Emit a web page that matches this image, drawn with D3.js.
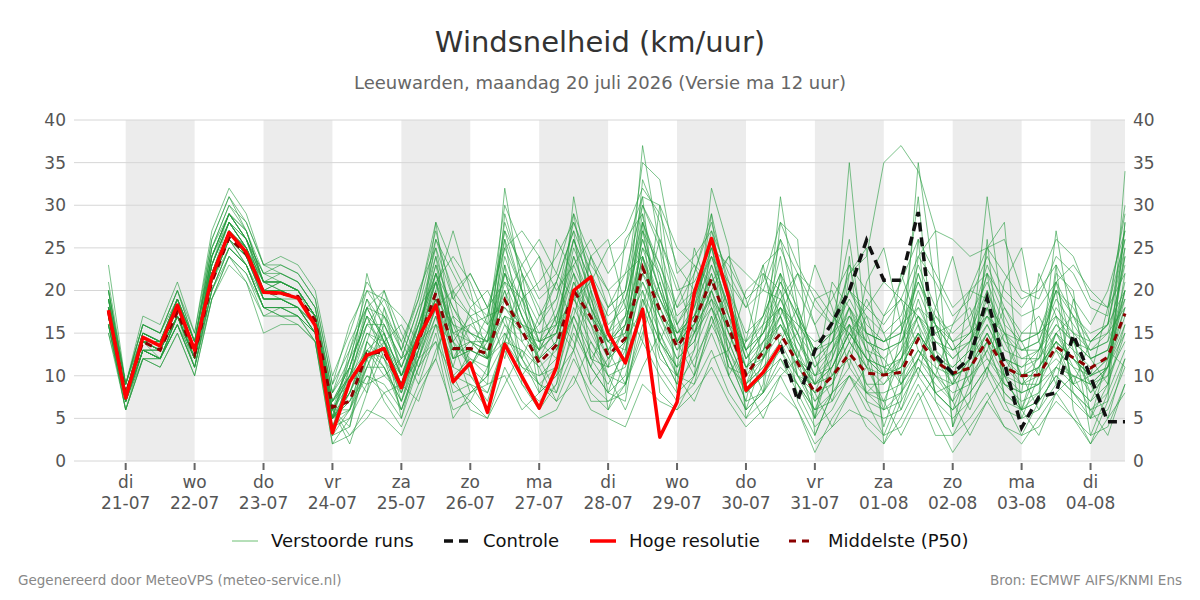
<!DOCTYPE html>
<html>
<head>
<meta charset="utf-8">
<script src="https://cdn.jsdelivr.net/npm/d3@7"></script>
<style>
  body { margin: 0; background: #fff; }
  text { font-family: "DejaVu Sans", sans-serif; }
</style>
</head>
<body>
<svg id="chart"></svg>
<script>
// Forecast steps: every 6 hours, from ma 20-07 18:00 up to di 04-08 12:00
const firstStep = new Date(2026, 6, 20, 18);
const stepCount = 60;

// Hoge resolutie (runs 10 days)
const hres = [17.7, 7.4, 14.5, 13.5, 18.3, 13.0, 21.6, 26.8, 24.5, 19.8,
  19.7, 19.1, 15.9, 3.3, 9.3, 12.4, 13.2, 8.6, 14.5, 18.3,
  9.3, 11.5, 5.7, 13.7, 9.9, 6.2, 11.0, 20.0, 21.6, 15.0,
  11.5, 17.8, 2.8, 6.9, 19.7, 26.1, 19.2, 8.3, 10.4, 13.6];

// Controle, shown from the end of the high resolution run (step 39)
const controlStart = 39;
const control = [13.6, 7.1, 13.0, 16.2, 20.0, 25.9, 21.2, 21.2, 29.2, 12.4,
  10.3, 12.1, 19.1, 11.5, 3.9, 7.5, 8.0, 14.8, 9.9, 4.6, 4.6];

// Middelste (P50)
const p50 = [17.5, 7.8, 14.0, 13.0, 17.5, 12.5, 21.0, 26.2, 24.3, 19.8,
  19.6, 19.3, 16.5, 6.3, 7.0, 12.6, 12.8, 8.7, 14.0, 19.7,
  13.2, 13.2, 12.6, 18.9, 15.3, 11.5, 13.6, 20.0, 16.9, 12.4,
  14.4, 22.7, 17.7, 13.4, 16.2, 21.4, 15.7, 10.1, 12.8, 14.9,
  11.5, 8.0, 9.9, 12.6, 10.3, 10.1, 10.4, 14.3, 11.7, 10.3,
  10.9, 14.2, 11.0, 10.0, 10.1, 13.4, 12.1, 10.9, 12.2, 17.3];

// Verstoorde runs (ensemble members)
const members = [
  [17,7,14,13,18,12,24,29,26,20, 21,20,16,5,8,14,12,9,15,23, 14,12,10,22,17,13,15,24,19,14, 12,27,20,14,18,25,17,9,12,18, 13,7,9,16,11,9,12,19,13,9, 12,18,10,8,9,15,11,8,10,22],
  [20,8,15,14,19,13,22,27,25,19, 19,18,15,3,6,11,15,10,13,22, 18,14,12,26,20,14,12,21,16,10, 9,20,15,11,15,23,18,12,15,19, 15,9,12,18,14,12,9,13,10,8, 9,14,12,11,13,17,14,12,13,20],
  [16,6,13,12,17,11,20,25,23,18, 18,18,15,7,11,17,12,6,12,18, 11,10,8,14,13,9,11,18,14,11, 16,25,22,15,17,20,13,8,10,12, 9,5,8,10,7,6,8,12,9,7, 10,13,9,7,8,11,9,7,9,15],
  [19,9,16,15,20,14,26,31,27,22, 22,21,18,8,12,19,16,11,17,25, 15,16,14,28,22,17,19,28,22,16, 18,30,25,18,22,28,21,14,17,22, 18,12,14,20,16,14,15,22,16,13, 15,22,17,13,14,20,18,14,16,27],
  [15,7,12,12,16,11,19,23,21,17, 18,17,14,4,5,9,10,8,13,19, 16,11,15,20,12,8,10,17,12,9, 13,21,16,12,14,19,14,9,11,14, 10,6,11,15,12,11,10,13,11,10, 12,15,11,9,10,12,10,9,11,16],
  [18,8,14,13,17,13,23,28,25,21, 20,19,17,6,4,12,14,10,16,21, 12,14,13,17,15,13,17,22,18,13, 15,24,19,14,16,21,16,11,14,16, 12,10,13,18,13,10,13,17,12,11, 13,17,12,10,11,14,12,10,12,19],
  [17,7,13,12,17,12,21,26,24,20, 19,19,16,5,9,15,13,8,14,19, 10,12,11,16,14,11,13,19,15,11, 12,22,17,12,14,20,15,10,12,15, 11,8,9,13,9,9,11,15,12,10, 11,14,10,9,9,13,11,10,11,17],
  [19,9,15,14,19,14,25,30,27,21, 21,20,17,7,10,16,14,9,15,24, 17,15,13,24,18,14,16,25,20,15, 17,28,22,16,20,26,19,12,15,20, 15,10,12,17,14,13,14,20,15,12, 14,19,15,12,13,18,15,13,14,24],
  [16,7,13,13,17,12,22,27,24,19, 19,18,16,6,7,11,11,7,12,17, 9,13,12,15,11,10,12,17,13,10, 11,19,14,11,13,18,14,9,11,13, 10,7,10,12,8,8,9,12,10,9, 10,12,9,8,9,11,10,9,10,14],
  [18,8,14,14,18,13,23,28,26,20, 20,20,17,5,8,13,15,10,14,21, 13,13,12,19,16,12,14,21,17,12, 14,23,18,13,17,22,16,11,13,16, 12,9,10,14,11,10,11,15,12,10, 11,15,11,10,10,14,12,10,12,18],
  [18,8,14,13,18,13,22,27,25,20, 20,19,16,6,10,16,16,12,18,26, 22,18,16,30,25,20,22,29,24,18, 20,35,33,22,24,27,22,18,20,26, 22,18,16,22,24,35,37,34,27,26, 24,25,26,20,19,24,22,18,17,30],
  [16,6,12,11,15,10,19,24,22,17, 17,16,14,2,3,6,5,3,8,12, 6,7,5,11,7,5,6,10,6,5, 4,9,7,6,8,11,7,4,6,8, 6,2,4,6,5,3,4,8,3,3, 5,8,4,3,4,7,5,3,4,9],
  [21,9,16,15,20,15,27,32,29,23, 23,22,19,9,13,20,19,14,19,27, 19,17,15,27,20,16,19,26,21,17, 19,26,20,16,19,24,18,13,16,21, 17,13,15,20,17,15,17,23,18,14, 16,23,18,15,15,21,17,14,16,25],
  [17,7,13,12,16,11,20,25,23,18, 18,17,15,4,6,10,9,6,11,16, 8,9,8,13,9,7,9,15,11,8, 10,18,13,9,12,16,12,8,10,13, 9,6,8,11,8,7,8,11,8,6, 8,11,7,6,7,10,8,6,8,13],
  [18,8,15,14,19,14,24,29,26,21, 21,20,17,8,11,18,17,11,16,22, 16,15,14,22,19,15,17,24,18,14, 16,25,19,15,18,23,17,12,14,18, 14,11,13,17,13,12,14,18,14,12, 14,18,13,12,12,16,14,12,13,21],
  [19,8,14,13,18,12,22,27,24,20, 20,19,16,4,9,22,15,5,13,28, 14,8,10,32,20,8,14,29,18,8, 14,37,25,10,16,29,20,6,12,31, 18,5,12,35,14,4,10,35,20,4, 12,31,16,5,10,27,15,3,8,34],
  [17,7,14,13,17,12,21,26,24,19, 19,18,15,5,12,19,14,7,14,26, 20,11,9,29,22,10,11,31,20,6, 12,33,28,8,13,32,25,5,9,28, 26,3,8,22,25,2,7,24,27,4, 9,25,28,6,8,22,20,5,9,28],
  [18,8,15,14,18,13,23,28,25,20, 20,19,16,6,2,8,18,10,15,20, 27,20,12,23,17,13,26,22,12,11, 26,29,14,11,25,19,11,10,22,20, 10,9,21,18,8,10,22,16,8,9, 20,19,9,8,22,17,9,10,18,22],
  [16,7,13,12,16,11,20,24,22,18, 17,17,14,3,4,14,20,13,9,12, 20,22,18,12,21,24,16,13,24,26, 18,14,30,16,11,17,10,14,23,13, 15,23,18,11,21,25,16,10,18,24, 16,10,21,25,14,9,19,12,13,11],
  [20,9,16,15,19,14,25,29,27,21, 22,21,18,7,11,17,13,9,17,24, 12,13,17,26,14,16,21,27,12,15, 20,31,13,9,22,29,12,7,16,24, 12,5,16,26,12,6,15,31,11,7, 14,22,10,6,13,20,8,5,12,24],
  [17,7,13,12,17,12,22,27,24,19, 19,18,15,5,7,12,7,4,9,15, 7,8,9,10,6,8,10,13,7,7, 9,14,10,7,9,13,8,5,7,10, 6,1,5,8,4,2,5,9,5,1, 4,7,4,2,5,8,5,2,5,8],
  [18,8,14,14,18,13,23,28,25,21, 21,20,17,7,9,13,12,8,14,19, 13,14,14,18,15,14,15,20,17,14, 15,22,19,15,17,21,17,13,15,18, 15,12,14,16,14,13,14,17,14,13, 14,17,14,13,13,16,14,13,14,19],
  [19,8,15,14,19,13,24,29,26,22, 21,20,17,6,10,15,14,9,15,22, 15,14,12,21,16,13,15,23,18,14, 16,26,20,14,17,24,18,11,13,19, 14,10,11,15,12,11,12,17,13,11, 13,16,12,11,12,15,13,11,12,20],
  [15,6,12,11,15,10,19,24,21,15, 16,16,14,2,5,11,16,12,14,16, 12,16,17,18,16,15,16,19,16,14, 17,21,17,15,16,19,16,14,16,18, 16,14,15,17,15,14,16,18,16,14, 15,17,15,14,15,17,15,14,15,18],
  [23,9,17,16,21,15,26,31,28,23, 24,23,20,10,15,21,18,13,19,28, 23,19,17,27,23,19,21,27,22,18, 20,28,23,18,20,26,20,15,17,22, 16,13,15,19,15,14,16,21,17,15, 17,21,16,14,15,20,17,15,16,26],
  [16,7,13,13,17,12,21,26,23,18, 18,17,15,4,8,13,11,7,13,18, 10,9,6,15,12,9,8,16,11,8, 7,19,14,10,9,17,12,7,8,12, 8,4,6,10,6,5,6,10,7,5, 7,10,6,5,6,9,7,5,6,11],
  [18,8,14,13,18,13,22,27,25,20, 20,19,16,5,11,17,15,10,15,21, 16,14,13,20,15,12,14,20,16,12, 14,24,17,13,15,20,15,11,12,16, 13,9,11,15,12,10,11,15,12,10, 11,15,11,10,11,14,12,10,11,18],
  [17,7,14,12,17,12,21,26,24,19, 19,18,16,5,6,14,11,6,12,20, 9,7,11,23,9,6,9,20,9,7, 8,28,8,6,10,26,10,6,8,22, 7,3,8,24,7,3,8,26,7,3, 7,26,7,3,7,23,6,2,7,28],
  [20,9,15,14,19,14,24,29,26,21, 21,20,17,6,9,18,14,9,16,23, 18,15,14,25,20,14,18,26,21,15, 19,27,23,17,19,25,19,13,15,21, 17,13,14,18,15,14,15,21,16,13, 15,20,15,13,14,19,16,13,15,23],
  [17,7,13,12,16,12,20,25,23,18, 17,17,15,5,7,10,8,5,11,14, 5,8,10,14,11,9,7,12,8,6, 9,16,11,8,10,15,10,6,8,11, 9,6,7,10,8,6,7,11,8,6, 8,11,8,6,7,10,8,6,7,12],
  [18,8,14,13,18,13,23,29,26,22, 23,22,19,9,16,20,17,13,20,25, 19,22,18,25,27,24,20,23,26,22, 25,31,30,25,23,21,24,22,20,19, 22,20,17,15,18,21,19,17,15,16, 20,22,19,17,18,21,23,20,18,26],
  [17,7,13,12,17,12,22,27,24,20, 20,19,16,7,10,9,14,16,12,18, 20,17,12,14,22,18,13,17,24,20, 14,18,26,21,15,20,24,19,12,17, 22,16,10,14,19,15,9,12,17,14, 9,13,18,14,10,15,17,12,9,16],
  [19,8,15,14,19,14,24,29,27,21, 21,20,17,5,13,18,20,15,11,17, 11,18,20,16,12,17,21,16,11,18, 22,24,14,19,23,18,13,20,22,17, 12,19,20,14,11,17,19,13,10,16, 18,12,10,15,17,13,9,14,16,20],
  [16,6,12,12,16,11,21,26,23,18, 18,18,15,3,11,8,13,9,7,13, 17,10,7,14,19,12,8,13,20,13, 9,15,21,14,10,16,20,13,8,14, 18,12,7,13,17,11,6,12,16,10, 6,11,15,10,6,11,14,9,5,12],
  [20,9,16,15,20,14,25,30,28,23, 22,21,18,8,14,18,14,11,16,22, 14,17,18,21,19,21,24,28,23,20, 22,30,26,20,21,25,23,19,21,28, 23,19,16,20,18,16,19,24,21,17, 19,24,20,18,21,26,24,19,18,29],
  [17,7,13,13,17,12,21,25,23,19, 19,18,16,6,3,5,8,9,12,14, 10,6,5,9,13,11,7,9,14,10, 6,11,15,10,7,12,13,9,5,10, 12,8,4,8,11,7,3,7,10,7, 3,7,10,6,3,8,10,6,3,9],
  [18,8,14,14,18,13,23,28,25,20, 21,20,17,6,12,16,19,17,14,21, 24,21,16,19,23,26,22,19,21,25, 27,32,29,23,20,24,21,18,23,25, 20,16,19,23,20,17,21,26,22,18, 20,25,22,19,20,23,19,16,20,27],
  [19,8,14,13,19,13,22,28,26,21, 20,19,17,5,8,12,17,14,10,16, 14,11,14,17,10,13,17,14,9,12, 16,20,12,10,15,18,11,9,14,17, 10,8,13,16,9,7,12,15,8,6, 11,14,8,6,11,14,9,7,11,15],
  [17,8,15,14,18,13,22,27,25,20, 20,19,16,4,10,13,10,12,18,21, 15,11,15,22,17,12,16,26,19,13, 17,29,21,14,18,27,19,13,17,26, 17,11,14,23,15,10,13,22,16,10, 12,20,14,10,12,21,13,8,11,25],
  [18,7,14,13,17,12,24,28,25,20, 20,19,16,6,6,12,13,10,15,19, 12,13,12,17,16,14,15,22,17,14, 13,24,18,14,16,22,15,10,13,17, 12,9,11,16,12,10,12,16,12,9, 12,16,12,9,11,15,12,9,11,20]
];

const yTicks = [0, 5, 10, 15, 20, 25, 30, 35, 40];
const dayNames = ["zo", "ma", "di", "wo", "do", "vr", "za"];
const legendItems = [
  {label: "Verstoorde runs", color: "#6cbf73", width: 1, dash: null},
  {label: "Controle", color: "#111", width: 3.5, dash: "9,6"},
  {label: "Hoge resolutie", color: "#ff0000", width: 3.5, dash: null},
  {label: "Middelste (P50)", color: "#8b0000", width: 3, dash: "7,6"}
];

const width = 1200, height = 600;
const plot = {left: 74, right: 1125, top: 120, bottom: 461};

const svg = d3.select("#chart")
  .attr("width", width)
  .attr("height", height)
  .style("background", "#fff");

const times = d3.range(stepCount).map(i => d3.timeHour.offset(firstStep, i * 6));

const xScale = d3.scaleTime()
  .domain([new Date(2026, 6, 20, 6), new Date(2026, 7, 4, 12)])
  .range([plot.left, plot.right]);

const yScale = d3.scaleLinear()
  .domain([0, 40])
  .range([plot.bottom, plot.top]);

const days = d3.timeDay.range(new Date(2026, 6, 21), new Date(2026, 7, 4, 1));

// alternating day bands (every other day, starting di 21-07)
svg.append("g").selectAll("rect")
  .data(days.filter((d, i) => i % 2 === 0))
  .join("rect")
  .attr("x", d => xScale(d))
  .attr("y", plot.top)
  .attr("width", d => Math.min(xScale(d3.timeDay.offset(d, 1)), plot.right) - xScale(d))
  .attr("height", plot.bottom - plot.top)
  .attr("fill", "#ececec");

// gridlines
svg.append("g").selectAll("line")
  .data(yTicks)
  .join("line")
  .attr("x1", plot.left)
  .attr("x2", plot.right)
  .attr("y1", d => yScale(d))
  .attr("y2", d => yScale(d))
  .attr("stroke", "#d6d6d6")
  .attr("stroke-width", 1);

// y labels both sides
const yLabels = svg.append("g")
  .style("font-size", "17px")
  .attr("fill", "#555");
yLabels.selectAll(".yl")
  .data(yTicks)
  .join("text")
  .attr("x", plot.left - 8)
  .attr("y", d => yScale(d))
  .attr("dy", "0.35em")
  .attr("text-anchor", "end")
  .text(d => d);
yLabels.selectAll(".yr")
  .data(yTicks)
  .join("text")
  .attr("x", plot.right + 8)
  .attr("y", d => yScale(d))
  .attr("dy", "0.35em")
  .attr("text-anchor", "start")
  .text(d => d);

// x ticks and two-line labels
const xAxis = svg.append("g");
xAxis.selectAll("line")
  .data(days)
  .join("line")
  .attr("x1", d => xScale(d))
  .attr("x2", d => xScale(d))
  .attr("y1", plot.bottom + 2)
  .attr("y2", plot.bottom + 9)
  .attr("stroke", "#666")
  .attr("stroke-width", 2);
const xLab = xAxis.selectAll("text")
  .data(days)
  .join("text")
  .attr("x", d => xScale(d))
  .attr("text-anchor", "middle")
  .attr("fill", "#555")
  .style("font-size", "17px");
xLab.append("tspan")
  .attr("x", d => xScale(d))
  .attr("y", 488)
  .text(d => dayNames[d.getDay()]);
xLab.append("tspan")
  .attr("x", d => xScale(d))
  .attr("y", 509)
  .text(d3.timeFormat("%d-%m"));

const line = d3.line()
  .x(d => xScale(d[0]))
  .y(d => yScale(d[1]));

// ensemble members
svg.append("g").selectAll("path")
  .data(members)
  .join("path")
  .attr("d", m => line(m.map((v, i) => [times[i], v])))
  .attr("fill", "none")
  .attr("stroke", "#259b3e")
  .attr("stroke-opacity", 0.6)
  .attr("stroke-width", 1);

// P50
svg.append("path")
  .attr("d", line(p50.map((v, i) => [times[i], v])))
  .attr("fill", "none")
  .attr("stroke", "#8b0000")
  .attr("stroke-width", 3)
  .attr("stroke-dasharray", "7,6");

// control
svg.append("path")
  .attr("d", line(control.map((v, i) => [times[controlStart + i], v])))
  .attr("fill", "none")
  .attr("stroke", "#111")
  .attr("stroke-width", 3.5)
  .attr("stroke-dasharray", "9,6");

// high resolution
svg.append("path")
  .attr("d", line(hres.map((v, i) => [times[i], v])))
  .attr("fill", "none")
  .attr("stroke", "#ff0000")
  .attr("stroke-width", 3.5)
  .attr("stroke-linejoin", "round");

// titles
svg.append("text")
  .attr("x", width / 2)
  .attr("y", 52)
  .attr("text-anchor", "middle")
  .attr("fill", "#333")
  .style("font-size", "29px")
  .text("Windsnelheid (km/uur)");
svg.append("text")
  .attr("x", width / 2)
  .attr("y", 89)
  .attr("text-anchor", "middle")
  .attr("fill", "#666")
  .style("font-size", "18px")
  .text("Leeuwarden, maandag 20 juli 2026 (Versie ma 12 uur)");

// legend
const legendX = [232, 444, 590, 789];
const legend = svg.selectAll(".legend")
  .data(legendItems)
  .join("g")
  .attr("class", "legend")
  .attr("transform", (d, i) => `translate(${legendX[i]},541)`);
legend.append("line")
  .attr("x1", 0)
  .attr("x2", 26)
  .attr("stroke", d => d.color)
  .attr("stroke-width", d => d.width)
  .attr("stroke-dasharray", d => d.dash);
legend.append("text")
  .attr("x", 39)
  .attr("dy", "0.35em")
  .attr("fill", "#111")
  .style("font-size", "18px")
  .text(d => d.label);

// footer
svg.append("text")
  .attr("x", 18)
  .attr("y", 585)
  .attr("fill", "#888")
  .style("font-size", "13.5px")
  .text("Gegenereerd door MeteoVPS (meteo-service.nl)");
svg.append("text")
  .attr("x", 1182)
  .attr("y", 585)
  .attr("text-anchor", "end")
  .attr("fill", "#888")
  .style("font-size", "13.5px")
  .text("Bron: ECMWF AIFS/KNMI Ens");
</script>
</body>
</html>
